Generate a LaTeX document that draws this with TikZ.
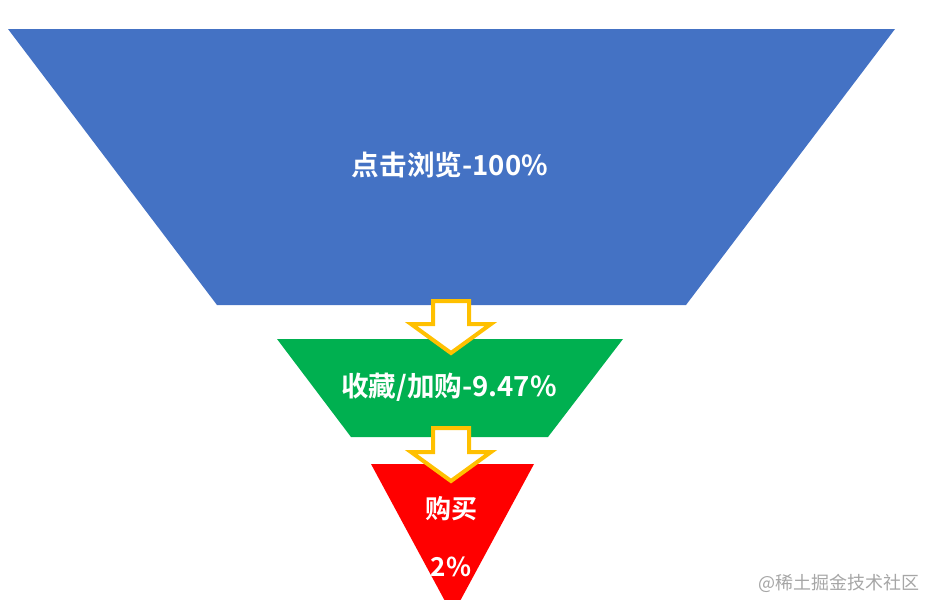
\documentclass[tikz,border=0pt]{standalone}
\usepackage{fontspec}
\newfontfamily\cjk{Noto Sans CJK SC}[BoldFont={* Bold}]
\definecolor{fblue}{HTML}{4472C4}
\definecolor{fgreen}{HTML}{00B050}
\definecolor{fred}{HTML}{FF0000}
\definecolor{forange}{HTML}{FFC000}
\definecolor{wmgray}{HTML}{A6A6A6}
\begin{document}
\begin{tikzpicture}[x=1pt,y=-1pt,
  lbl/.style={text=white,font=\cjk\bfseries\fontsize{26}{30}\selectfont,inner sep=0pt},
  biglbl/.style={lbl,font=\cjk\bfseries\fontsize{27.6}{32}\selectfont},
  downarrow/.style={draw=forange,line width=4pt,fill=white,line join=miter}]
\useasboundingbox (0,0) rectangle (927,600);
\clip (0,0) rectangle (927,600);
% stages
\fill[fblue] (8,29) -- (895,29) -- (686,305) -- (217,305) -- cycle;
\fill[fgreen] (277,339) -- (623,339) -- (548,437) -- (351,437) -- cycle;
\fill[fred] (371,464) -- (534,464) -- (452.5,615) -- cycle;
% arrows
\draw[downarrow] (433,301) -- (469,301) -- (469,324) -- (491,324) -- (451,353) -- (411,324) -- (433,324) -- cycle;
\draw[downarrow] (433,428) -- (469,428) -- (469,452) -- (491,452) -- (451,481) -- (411,452) -- (433,452) -- cycle;
% labels
\node[biglbl] (t1) at (450,165) {点击浏览-100\%};
\node[biglbl] (t2) at (449,387) {收藏/加购-9.47\%};
\node[lbl] (t3) at (451,509) {购买};
\node[lbl] (t4) at (451,567) {2\%};
\node[text=wmgray,font=\cjk\fontsize{18}{20}\selectfont,anchor=east,inner sep=0pt] (wm) at (920,583) {@稀土掘金技术社区};
\end{tikzpicture}
\end{document}
